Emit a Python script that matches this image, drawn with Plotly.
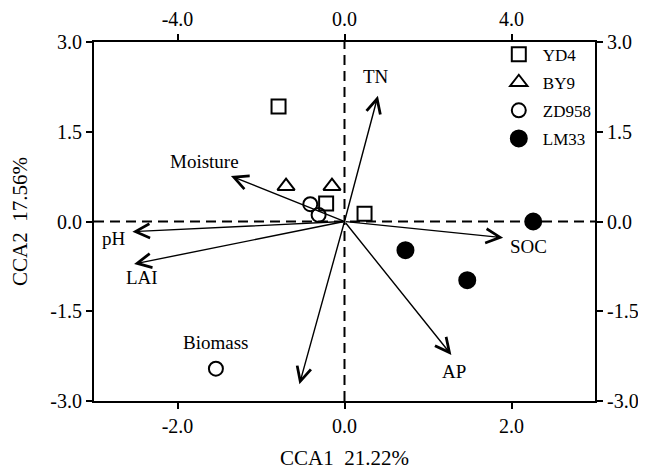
import plotly.graph_objects as go

# ---- data (CCA1 / CCA2 scores, bottom-axis units) ----
yd4_x = [-0.79, -0.22, 0.24]
yd4_y = [1.92, 0.30, 0.13]
by9_x = [-0.70, -0.15]
by9_y = [0.59, 0.59]
zd958_x = [-0.41, -0.31, -1.54]
zd958_y = [0.29, 0.11, -2.46]
lm33_x = [2.26, 0.73, 1.47]
lm33_y = [0.00, -0.48, -0.98]

env_names = ["TN", "Moisture", "pH", "LAI", "SOC", "AP", "Biomass"]
env_x = [0.40, -1.36, -2.54, -2.52, 1.90, 1.28, -0.54]
env_y = [2.10, 0.76, -0.17, -0.71, -0.27, -2.23, -2.72]
label_x = [0.38, -1.68, -2.76, -2.42, 2.20, 1.31, -1.54]
label_y = [2.42, 1.00, -0.28, -0.94, -0.41, -2.50, -2.03]

x_range = [-3.0, 3.0]
y_range = [-3.0, 3.0]
x_ticks = [-2.0, 0.0, 2.0]
top_range = [-6.0, 6.0]
top_ticks = [-4.0, 0.0, 4.0]
y_ticks = [-3.0, -1.5, 0.0, 1.5, 3.0]

FONT = "Liberation Serif"
fig = go.Figure()

mk = dict(size=14, line=dict(width=2, color="black"), color="black")
fig.add_trace(go.Scatter(x=yd4_x, y=yd4_y, mode="markers", name="YD4", legendgroup="a",
                         marker=dict(mk, symbol="square-open")))
fig.add_trace(go.Scatter(x=by9_x, y=by9_y, mode="markers", name="BY9", legendgroup="b",
                         marker=dict(mk, symbol="triangle-up-open", size=15)))
fig.add_trace(go.Scatter(x=zd958_x, y=zd958_y, mode="markers", name="ZD958", legendgroup="c",
                         marker=dict(mk, symbol="circle-open")))
fig.add_trace(go.Scatter(x=lm33_x, y=lm33_y, mode="markers", name="LM33", legendgroup="d",
                         marker=dict(mk, symbol="circle", size=16)))
# secondary axes carrier
fig.add_trace(go.Scatter(x=[], y=[], xaxis="x2", yaxis="y2", showlegend=False, hoverinfo="skip"))

# dashed zero lines
fig.add_shape(type="line", xref="x", yref="y", x0=x_range[0], x1=x_range[1], y0=0, y1=0,
              line=dict(color="black", width=2, dash="10px,6px"), layer="below")
fig.add_shape(type="line", xref="x", yref="y", x0=0, x1=0, y0=y_range[0], y1=y_range[1],
              line=dict(color="black", width=2, dash="10px,6px"), layer="below")

# environmental vectors
for n, ex, ey, lx, ly in zip(env_names, env_x, env_y, label_x, label_y):
    fig.add_annotation(x=ex, y=ey, ax=0, ay=0, xref="x", yref="y", axref="x", ayref="y",
                       text="", showarrow=True, arrowhead=5, arrowsize=2.0,
                       arrowwidth=1.4, arrowcolor="black", standoff=0, startstandoff=0)
    fig.add_annotation(x=lx, y=ly, xref="x", yref="y", text=n, showarrow=False,
                       font=dict(family=FONT, size=19, color="black"))

axis_common = dict(showline=True, linecolor="black", linewidth=2, ticks="outside",
                   ticklen=6, tickwidth=2, tickcolor="black", showgrid=False, zeroline=False,
                   automargin=False,
                   tickfont=dict(family=FONT, size=20, color="black"))

# page body has an 8px margin, so the figure is sized/offset to compensate
fig.update_layout(
    width=638, height=463,
    margin=dict(l=86, r=51, t=34, b=70, autoexpand=False),
    font=dict(family=FONT, color="black"),
    paper_bgcolor="white", plot_bgcolor="white",
    showlegend=True,
    legend=dict(x=0.80, y=1.015, xanchor="left", yanchor="top", bgcolor="rgba(0,0,0,0)",
                font=dict(family=FONT, size=17, color="black"), tracegroupgap=3,
                itemwidth=38, traceorder="grouped"),
    xaxis=dict(axis_common, range=x_range, tickvals=x_ticks,
               ticktext=[f"{v:.1f}" for v in x_ticks],
               title=dict(text="CCA1\u00a0\u00a021.22%", font=dict(family=FONT, size=21, color="black"),
                          standoff=14)),
    yaxis=dict(axis_common, range=y_range, tickvals=y_ticks,
               ticktext=[f"{v:.1f}" for v in y_ticks],
               title=dict(text="CCA2\u00a0\u00a017.56%", font=dict(family=FONT, size=21, color="black"),
                          standoff=22)),
    xaxis2=dict(axis_common, range=top_range, tickvals=top_ticks,
                ticktext=[f"{v:.1f}" for v in top_ticks], overlaying="x", side="top", anchor="y2"),
    yaxis2=dict(axis_common, range=y_range, tickvals=y_ticks,
                ticktext=[f"{v:.1f}" for v in y_ticks], overlaying="y", side="right", anchor="x2"),
)

fig.write_html("out.html")
